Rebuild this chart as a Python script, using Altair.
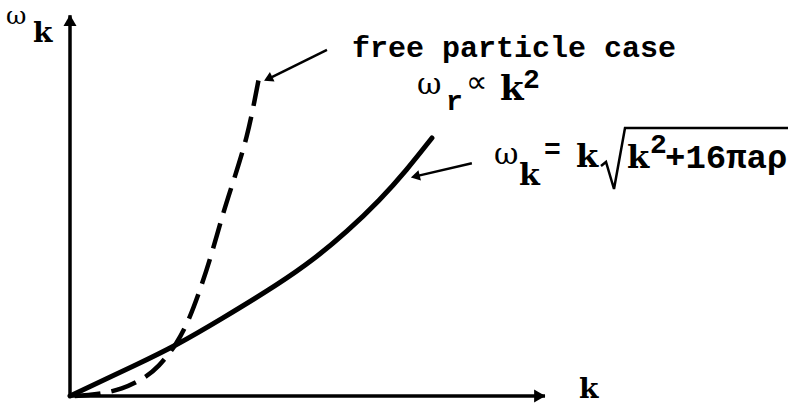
import altair as alt
import pandas as pd

# Dispersion curves (k and omega in arbitrary units)
bog_k = [0, 1.47, 2.21, 3.16, 4.42, 5.12, 5.83, 6.53, 7.09, 7.62]
bog_w = [0, 0.69, 1.05, 1.60, 2.37, 2.86, 3.45, 4.12, 4.75, 5.42]

free_k = [0.1, 0.55, 1.09, 1.62, 1.89, 2.06, 2.21, 2.48, 2.74, 2.99, 3.22, 3.47, 3.73, 3.89, 4.0]
free_w = [0, 0.03, 0.13, 0.40, 0.65, 0.86, 1.05, 1.53, 2.23, 3.0, 3.84, 4.6, 5.44, 6.22, 6.8]

# Axis extents
axis_k_end = [10.0]
axis_w_end = [8.0]

W, H = 791, 404
xs = alt.Scale(domain=[-1.4737, 15.179], nice=False, zero=False)
ys = alt.Scale(domain=[-0.168, 8.319], nice=False, zero=False)
NOAX = None
MONO = "Liberation Mono"
SERIF = "DejaVu Serif"

bog = pd.DataFrame({"k": bog_k, "w": bog_w})
free = pd.DataFrame({"k": free_k, "w": free_w})


def X(f):
    return alt.X(f, scale=xs, axis=NOAX)


def Y(f):
    return alt.Y(f, scale=ys, axis=NOAX)


solid = alt.Chart(bog).mark_line(color="black", strokeWidth=5, interpolate="basis",
                                 strokeCap="round").encode(x=X("k:Q"), y=Y("w:Q"))
dashed = alt.Chart(free).mark_line(color="black", strokeWidth=4.5, interpolate="basis",
                                   strokeDash=[26, 11]).encode(x=X("k:Q"), y=Y("w:Q"))

axes_df = pd.DataFrame({"k0": [0, 0], "w0": [0, 0],
                        "k1": [axis_k_end[0], 0], "w1": [0, axis_w_end[0]]})
axes = alt.Chart(axes_df).mark_rule(color="black", strokeWidth=3.5).encode(
    x=X("k0:Q"), y=Y("w0:Q"), x2="k1:Q", y2="w1:Q")

heads_df = pd.DataFrame({"k": [axis_k_end[0] - 0.15, 0], "w": [0, axis_w_end[0] - 0.15],
                         "ang": [90, 0]})
heads = alt.Chart(heads_df).mark_point(shape="triangle", filled=True, color="black",
                                       size=170, opacity=1).encode(
    x=X("k:Q"), y=Y("w:Q"), angle=alt.Angle("ang:Q", scale=None))

# Pointer arrows from the labels to the curves
ptr_df = pd.DataFrame({"k0": [5.41, 8.46], "w0": [7.27, 4.89],
                       "k1": [4.25, 7.34], "w1": [6.70, 4.63]})
ptr = alt.Chart(ptr_df).mark_rule(color="black", strokeWidth=2.5).encode(
    x=X("k0:Q"), y=Y("w0:Q"), x2="k1:Q", y2="w1:Q")
ptr_head_df = pd.DataFrame({"k": [4.20, 7.30], "w": [6.68, 4.62], "ang": [244, 256]})
ptr_head = alt.Chart(ptr_head_df).mark_point(shape="triangle", filled=True, color="black",
                                             size=110, opacity=1).encode(
    x=X("k:Q"), y=Y("w:Q"), angle=alt.Angle("ang:Q", scale=None))


def txt(s, x, y, size, bold=True, font=MONO):
    return alt.Chart(pd.DataFrame({"t": [s]})).mark_text(
        text=s, font=font, fontSize=size, fontWeight="bold" if bold else "normal",
        align="left", baseline="alphabetic", color="black").encode(
        x=alt.value(x), y=alt.value(y))


labels = [
    txt("ω", 6, 24, 25, bold=False, font=SERIF),
    txt("k", 33, 42, 28, font=SERIF),
    txt("free particle case", 352, 57, 30),
    txt("ω", 417, 94, 30, bold=False, font=SERIF),
    txt("r", 446, 110, 28),
    txt("∝", 466, 92, 30, bold=False, font="DejaVu Sans"),
    txt("k", 500, 100, 34, font=SERIF),
    txt("2", 523, 88, 28),
    txt("ω", 494, 164, 30, bold=False, font=SERIF),
    txt("k", 519, 185, 30, font=SERIF),
    txt("=", 544, 158, 28),
    txt("k", 576, 167, 32, font=SERIF),
    txt("k", 627, 168, 32, font=SERIF),
    txt("2", 650, 153, 28),
    txt("+16πaρ", 665, 168, 34),
    txt("k", 579, 398, 28, font=SERIF),
]

# Radical sign with its vinculum
rad = pd.DataFrame({"px": [601, 606, 614, 625, 788], "py": [166, 162, 189, 128, 128],
                    "o": [0, 1, 2, 3, 4]})
radical = alt.Chart(rad).mark_line(color="black", strokeWidth=2.5, strokeJoin="miter").encode(
    x=alt.X("px:Q", scale=None), y=alt.Y("py:Q", scale=None), order="o:Q")

chart = alt.layer(axes, heads, solid, dashed, ptr, ptr_head, radical, *labels).properties(
    width=W, height=H, autosize=alt.AutoSizeParams(type="none"), padding=0,
    background="white"
).configure_view(stroke=None)

chart.save("out.html", embed_options={"renderer": "svg", "actions": False})
